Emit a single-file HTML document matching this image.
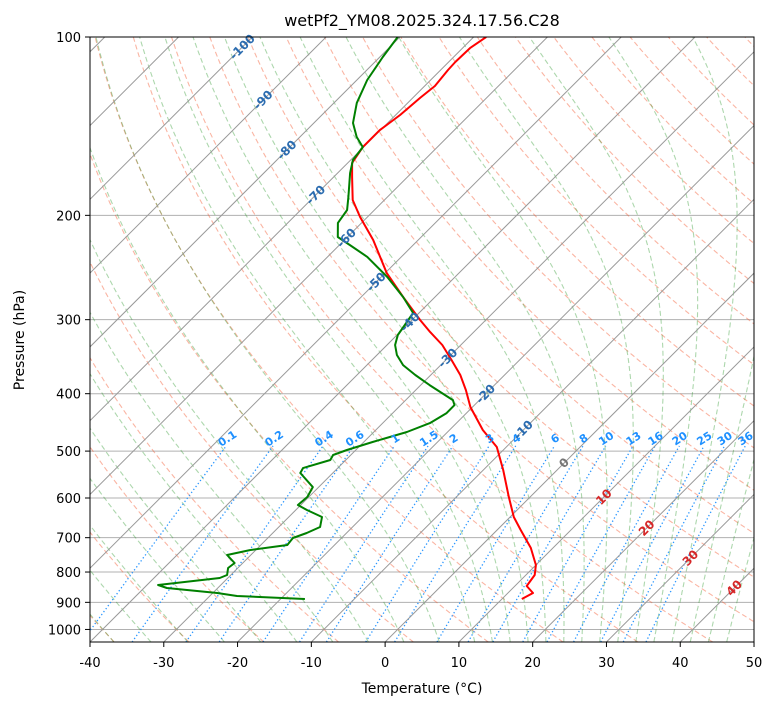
<!DOCTYPE html>
<html><head><meta charset="utf-8"><style>
html,body{margin:0;padding:0;background:#fff;}
svg{display:block;font-family:"DejaVu Sans","Liberation Sans",sans-serif;}
</style></head><body>
<svg id="chart" width="775" height="708" viewBox="0 0 775 708" xmlns="http://www.w3.org/2000/svg">
<defs><clipPath id="clip"><rect x="90" y="37" width="664" height="605"/></clipPath></defs>
<rect width="775" height="708" fill="#fff"/>
<text x="422" y="26" font-size="16" text-anchor="middle" fill="#000">wetPf2_YM08.2025.324.17.56.C28</text>
<g id="bg" clip-path="url(#clip)"></g>
<g id="series" clip-path="url(#clip)"></g>
<g id="labels"></g>
<rect x="90" y="37" width="664" height="605" fill="none" stroke="#000" stroke-width="1"/>
<g id="axes"></g>
<text x="422" y="693" font-size="14" text-anchor="middle">Temperature (°C)</text>
<text x="24" y="340" font-size="14" text-anchor="middle" transform="rotate(-90 24 340)">Pressure (hPa)</text>
</svg>
<script>
const tempPressure=[100,104.4,110.2,113.7,121.0,126.7,135.4,143.6,153.4,163.2,172.3,188.4,201.3,220.1,250.2,274.8,300.4,314.8,331.1,351.0,372.0,394.4,421.2,460.6,492.0,538.2,597.5,645.9,679.4,728.5,778.4,809.3,844.7,868.0,888.4];
const tempValues=[-68.3,-69.0,-69.1,-69.0,-68.6,-69.0,-69.4,-70.1,-70.1,-69.4,-67.5,-64.3,-61.0,-56.1,-49.8,-44.3,-38.9,-35.9,-32.5,-29.2,-26.0,-23.2,-20.3,-15.5,-11.3,-7.3,-2.9,0.5,3.2,7.0,10.0,11.2,11.6,13.4,12.7];
const dewPressure=[100,108.1,118.2,129.2,139.7,147.5,153.4,161.3,169.7,186.2,195.9,206.0,217.6,224.4,235.1,254.1,274.8,292.3,306.3,318.4,331.1,344.2,357.9,372.0,386.8,410.1,418.2,431.3,448.4,464.3,482.6,497.9,507.6,517.6,534.1,544.5,575.0,597.5,616.4,628.5,645.9,671.6,687.4,700.9,720.3,734.5,748.9,772.5,787.7,809.3,818.8,841.4,851.1,868.0,878.2,888.4];
const dewValues=[-80.3,-79.6,-78.6,-76.9,-74.7,-72.3,-70.1,-69.7,-68.3,-65.3,-63.7,-63.2,-61.3,-58.6,-54.6,-49.2,-44.3,-40.8,-40.3,-39.9,-38.9,-37.3,-35.1,-32.1,-28.8,-23.6,-22.7,-22.7,-23.6,-25.5,-28.8,-31.2,-32.4,-32.1,-34.7,-34.4,-30.8,-30.2,-30.4,-28.5,-25.5,-24.4,-25.4,-26.6,-26.4,-30.8,-33.2,-31.1,-31.3,-30.5,-31.1,-38.5,-36.9,-29.4,-26.3,-16.7];
const xTicks=[-40,-30,-20,-10,0,10,20,30,40,50];
const yTicks=[100,200,300,400,500,600,700,800,900,1000];
const mixRatios=[0.1,0.2,0.4,0.6,1,1.5,2,3,4,6,8,10,13,16,20,25,30,36];
const isoLabels=[-100,-90,-80,-70,-60,-50,-40,-30,-20,-10,0,10,20,30,40];
const isoLabelY=[47,100,150,195,238,282,322,358,394,430,463,497,528,558,588];

const NS="http://www.w3.org/2000/svg";
function Y(p){return 37+Math.log10(p/100)/Math.log10(10.5)*605;}
function X(T,p){return 90+(T+40)*7.378+(642-Y(p));}
function el(tag,attrs,parent){const e=document.createElementNS(NS,tag);for(const k in attrs)e.setAttribute(k,attrs[k]);parent.appendChild(e);return e;}
const bg=document.getElementById('bg'),series=document.getElementById('series'),labels=document.getElementById('labels'),axes=document.getElementById('axes');
function pathFrom(pts){return pts.map((q,i)=>(i?'L':'M')+q[0].toFixed(1)+','+q[1].toFixed(1)).join('');}
const pLevels=[];for(let p=1050;p>=100;p-=5)pLevels.push(p);

yTicks.forEach(p=>{const l=el('line',{x1:90,x2:754,y1:Y(p),y2:Y(p),stroke:'#b0b0b0','stroke-width':1},bg);

});
for(let t0=-40;t0<=260;t0+=10){const th=t0+273.15;
const d=pathFrom(pLevels.map(p=>[X(th*Math.pow(p/1000,0.2857)-273.15,p),Y(p)]));
const e=el('path',{d:d,fill:'none',stroke:'rgba(245,90,50,0.45)','stroke-width':1.1,'stroke-dasharray':'5,3'},bg);

}
function es(T){return 6.112*Math.exp(17.67*T/(T+243.5));}
function moistLapse(T,p){const Tk=T+273.15,e=es(T),rs=0.622*e/(p-e);const Rd=287.04,Cp=1005.7,Lv=2.501e6;
return (Rd*Tk+Lv*rs)/(Cp+Lv*Lv*rs*0.622/(Rd*Tk*Tk))/p;}
const moistStarts=[];for(let t=-40;t<=10;t+=5)moistStarts.push(t);for(let t=12.5;t<=45;t+=2.5)moistStarts.push(t);
moistStarts.forEach(t0=>{let pts=[];let T=t0;for(let p=1000;p<=1050;p+=1){T+=moistLapse(T,p)*1;}
let Tc=T;for(let p=1050;p>=100;p-=1){if((p%5)===0)pts.push([X(Tc,p),Y(p)]);Tc-=moistLapse(Tc,p)*1;}
const e=el('path',{d:pathFrom(pts),fill:'none',stroke:'rgba(40,150,40,0.38)','stroke-width':1.1,'stroke-dasharray':'5,3'},bg);

});
function tdFromW(w,p){const e=w*p/(622+w);const l=Math.log(e/6.112);return 243.5*l/(17.67-l);}
mixRatios.forEach(w=>{const pts=[];for(let p=1050;p>=490;p-=5)pts.push([X(tdFromW(w,p),p),Y(p)]);
const e=el('path',{d:pathFrom(pts),fill:'none',stroke:'#1e90ff','stroke-width':1.3,'stroke-dasharray':'1.3,2.4','opacity':0.95},bg);


const lx=X(tdFromW(w,482),482),ly=Y(482);
const t=el('text',{x:lx,y:ly,'font-size':11,'font-weight':'bold',fill:'#1e90ff','text-anchor':'middle',transform:'rotate(-33 '+lx+' '+ly+')'},labels);
t.textContent=String(w);

});
for(let T=-150;T<=50;T+=10){const e=el('line',{x1:X(T,1050),y1:Y(1050),x2:X(T,100),y2:Y(100),stroke:'#999','stroke-width':1},bg);

}
isoLabels.forEach((T,i)=>{const y=isoLabelY[i];const x=90+(T+40)*7.378+(642-y);
const col=T<0?'#2b6cb0':(T===0?'#777':'#d62728');
const t=el('text',{x:x,y:y+4,'font-size':12,'font-weight':'bold',fill:col,'text-anchor':'middle',transform:'rotate(-45 '+x+' '+y+')'},labels);
t.textContent=String(T);

});
const tp=el('path',{d:pathFrom(tempPressure.map((p,i)=>[X(tempValues[i],p),Y(p)])),fill:'none',stroke:'#ff0000','stroke-width':2,'stroke-linejoin':'round'},series);


const dp=el('path',{d:pathFrom(dewPressure.map((p,i)=>[X(dewValues[i],p),Y(p)])),fill:'none',stroke:'#008000','stroke-width':2,'stroke-linejoin':'round'},series);


xTicks.forEach(T=>{const x=90+(T+40)*7.378;
const l=el('line',{x1:x,x2:x,y1:642,y2:647,stroke:'#000'},axes);


const t=el('text',{x:x,y:667,'font-size':13,'text-anchor':'middle'},axes);t.textContent=String(T);

});
yTicks.forEach(p=>{const y=Y(p);
const l=el('line',{x1:85,x2:90,y1:y,y2:y,stroke:'#000'},axes);


const t=el('text',{x:81,y:y+5,'font-size':13,'text-anchor':'end'},axes);t.textContent=String(p);

});
</script>
</body></html>
